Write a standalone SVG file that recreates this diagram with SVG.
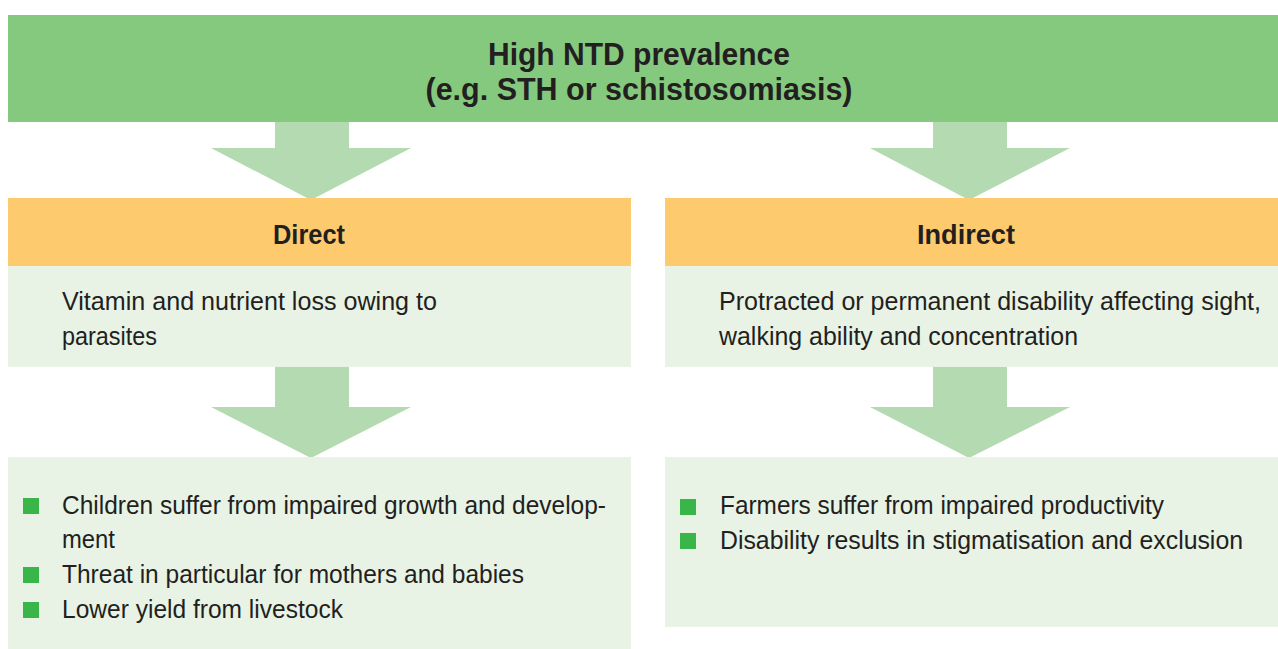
<svg xmlns="http://www.w3.org/2000/svg" width="1278" height="649" viewBox="0 0 1278 649">
<style>
.banner{fill:#85c97f}
.arrow{fill:#b3dab0}
.head{fill:#fdcb6e}
.light{fill:#e8f3e6}
.bullet{fill:#3ab54a}
text{font-family:"Liberation Sans",Arial,sans-serif;fill:#231f20}
.t{font-size:31px;font-weight:bold;text-anchor:middle}
.h{font-size:27px;font-weight:bold;text-anchor:middle}
.b{font-size:25px}
</style>
<rect width="1278" height="649" fill="#ffffff"/>
<g id="connectors">
<polygon class="arrow" points="275,122 349,122 349,148 411,148 311,200 211,148 275,148"/>
<polygon class="arrow" points="933,122 1007,122 1007,148 1070,148 969,200 870,148 933,148"/>
<polygon class="arrow" points="275,367 349,367 349,407 411,407 311,458 211,407 275,407"/>
<polygon class="arrow" points="933,367 1007,367 1007,407 1070,407 969,458 870,407 933,407"/>
</g>
<g id="top">
<rect class="banner" x="8" y="15" width="1270" height="107"/>
<text class="t" x="639" y="65" textLength="302" lengthAdjust="spacingAndGlyphs">High NTD prevalence</text>
<text class="t" x="639" y="100" textLength="427" lengthAdjust="spacingAndGlyphs">(e.g. STH or schistosomiasis)</text>
</g>
<g id="direct">
<rect class="head" x="8" y="198" width="623" height="68"/>
<text class="h" x="309" y="244" textLength="72" lengthAdjust="spacingAndGlyphs">Direct</text>
</g>
<g id="direct-effect">
<rect class="light" x="8" y="266" width="623" height="101"/>
<text class="b" x="62" y="310" textLength="375" lengthAdjust="spacingAndGlyphs">Vitamin and nutrient loss owing to</text>
<text class="b" x="62" y="345" textLength="95" lengthAdjust="spacingAndGlyphs">parasites</text>
</g>
<g id="direct-results">
<rect class="light" x="8" y="457" width="623" height="192"/>
<rect class="bullet" x="23" y="498" width="16" height="16"/>
<text class="b" x="62" y="514" textLength="544" lengthAdjust="spacingAndGlyphs">Children suffer from impaired growth and develop-</text>
<text class="b" x="62" y="548" textLength="53" lengthAdjust="spacingAndGlyphs">ment</text>
<rect class="bullet" x="23" y="567" width="16" height="16"/>
<text class="b" x="62" y="583" textLength="462" lengthAdjust="spacingAndGlyphs">Threat in particular for mothers and babies</text>
<rect class="bullet" x="23" y="602" width="16" height="16"/>
<text class="b" x="62" y="618" textLength="281" lengthAdjust="spacingAndGlyphs">Lower yield from livestock</text>
</g>
<g id="indirect">
<rect class="head" x="665" y="198" width="613" height="68"/>
<text class="h" x="966" y="244" textLength="98" lengthAdjust="spacingAndGlyphs">Indirect</text>
</g>
<g id="indirect-effect">
<rect class="light" x="665" y="266" width="613" height="101"/>
<text class="b" x="719" y="310" textLength="542" lengthAdjust="spacingAndGlyphs">Protracted or permanent disability affecting sight,</text>
<text class="b" x="719" y="345" textLength="359" lengthAdjust="spacingAndGlyphs">walking ability and concentration</text>
</g>
<g id="indirect-results">
<rect class="light" x="665" y="457" width="613" height="170"/>
<rect class="bullet" x="680" y="499" width="16" height="16"/>
<text class="b" x="720" y="514" textLength="444" lengthAdjust="spacingAndGlyphs">Farmers suffer from impaired productivity</text>
<rect class="bullet" x="680" y="533" width="16" height="16"/>
<text class="b" x="720" y="549" textLength="523" lengthAdjust="spacingAndGlyphs">Disability results in stigmatisation and exclusion</text>
</g>
</svg>
